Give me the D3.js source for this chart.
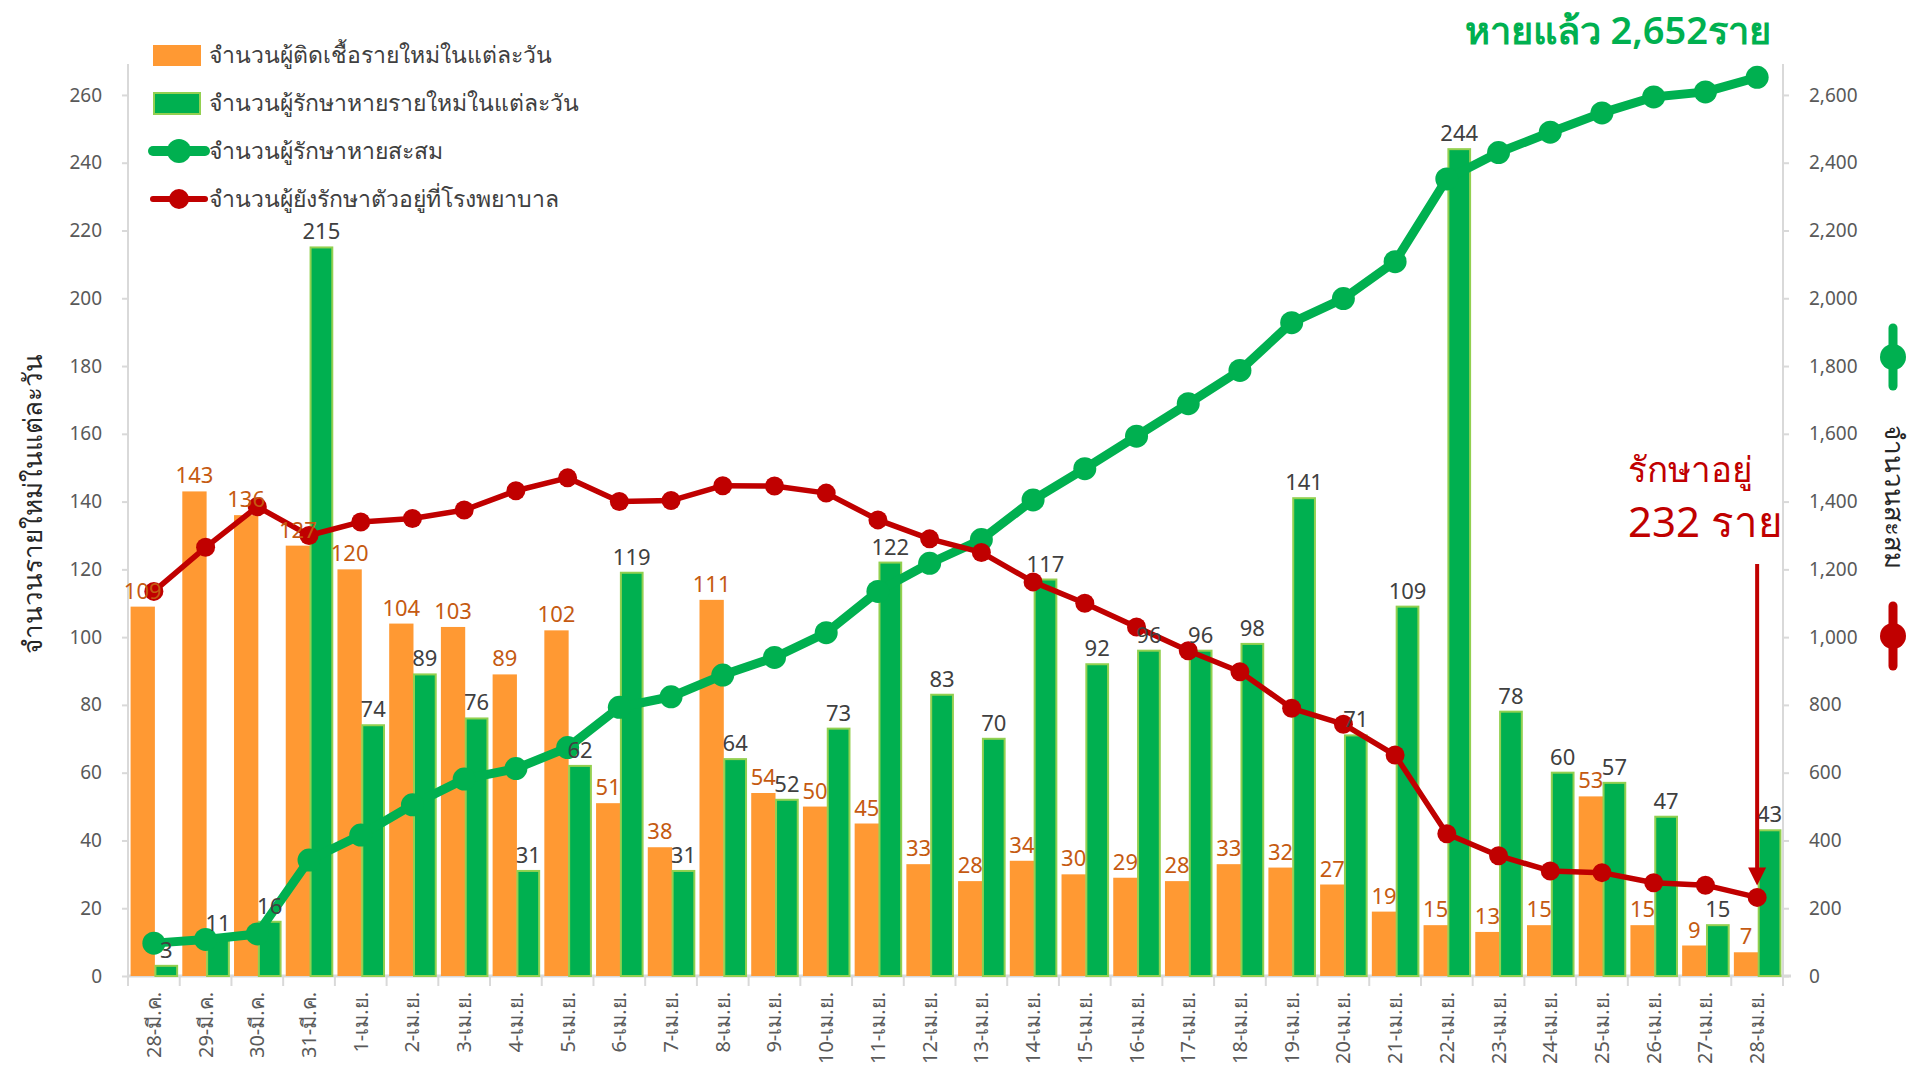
<!DOCTYPE html>
<html>
<head>
<meta charset="utf-8">
<script src="https://cdn.jsdelivr.net/npm/d3@7"></script>
<style>
  body { margin: 0; background: #fff; }
  text { font-family: "Noto Sans", "DejaVu Sans", sans-serif; }
</style>
</head>
<body>
<div id="chart"></div>
<script>
var days = ["28-มี.ค.","29-มี.ค.","30-มี.ค.","31-มี.ค.","1-เม.ย.","2-เม.ย.","3-เม.ย.","4-เม.ย.","5-เม.ย.","6-เม.ย.",
  "7-เม.ย.","8-เม.ย.","9-เม.ย.","10-เม.ย.","11-เม.ย.","12-เม.ย.","13-เม.ย.","14-เม.ย.","15-เม.ย.","16-เม.ย.",
  "17-เม.ย.","18-เม.ย.","19-เม.ย.","20-เม.ย.","21-เม.ย.","22-เม.ย.","23-เม.ย.","24-เม.ย.","25-เม.ย.","26-เม.ย.",
  "27-เม.ย.","28-เม.ย."];
// new infections per day
var newCases = [109,143,136,127,120,104,103,89,102,51,38,111,54,50,45,33,28,34,30,29,28,33,32,27,19,15,13,15,53,15,9,7];
// newly recovered per day
var newRecovered = [3,11,16,215,74,89,76,31,62,119,31,64,52,73,122,83,70,117,92,96,96,98,141,71,109,244,78,60,57,47,15,43];
// cumulative recovered (right axis)
var cumRecovered = [97,108,124,342,416,505,581,612,674,793,824,888,940,1013,1135,1218,1288,1405,1497,1593,
  1689,1787,1928,1999,2108,2352,2430,2490,2547,2594,2609,2652];
// still in hospital (right axis)
var inHospital = [1135,1265,1385,1300,1340,1350,1375,1432,1470,1400,1403,1447,1446,1425,1346,1290,1250,1163,1100,1030,
  960,898,790,743,652,420,355,310,305,275,268,232];
var leftTicks = [0,20,40,60,80,100,120,140,160,180,200,220,240,260];
var rightTicks = [0,200,400,600,800,1000,1200,1400,1600,1800,2000,2200,2400,2600];

var legendNames = ["จำนวนผู้ติดเชื้อรายใหม่ในแต่ละวัน","จำนวนผู้รักษาหายรายใหม่ในแต่ละวัน","จำนวนผู้รักษาหายสะสม","จำนวนผู้ยังรักษาตัวอยู่ที่โรงพยาบาล"];

var orange = "#ff9933", orangeText = "#c55a11", green = "#00b050", greenEdge = "#92d050", red = "#c00000",
    axisCol = "#d9d9d9", tickText = "#595959";

var svgWidth = 1915, svgHeight = 1069;
var plotLeft = 128, plotRight = 1783, plotTop = 78, plotBottom = 976;

var svg = d3.select("#chart").append("svg")
    .attr("width", svgWidth)
    .attr("height", svgHeight);

var x = d3.scaleBand().domain(days).range([plotLeft, plotRight]).padding(0);
var bw = x.bandwidth();
var yL = d3.scaleLinear().domain([0, 265]).range([plotBottom, plotTop]);
var yR = d3.scaleLinear().domain([0, 2650]).range([plotBottom, plotTop]);

// axes
var gl = svg.append("g").attr("transform", "translate(" + plotLeft + ",0)")
    .call(d3.axisLeft(yL).tickValues(leftTicks).tickSize(6).tickPadding(20));
var gr = svg.append("g").attr("transform", "translate(" + plotRight + ",0)")
    .call(d3.axisRight(yR).tickValues(rightTicks).tickSize(6).tickPadding(20).tickFormat(d3.format(",")));
[gl, gr].forEach(function (g) {
  g.select(".domain").attr("stroke", axisCol).attr("stroke-width", 2).attr("d", "M0," + plotBottom + "V" + (plotTop - 14));
  g.selectAll(".tick line").attr("stroke", axisCol).attr("stroke-width", 2);
  g.selectAll(".tick text").attr("fill", tickText).attr("font-size", 19);
});

// x axis
var gx = svg.append("g").attr("transform", "translate(0," + plotBottom + ")");
gx.append("line").attr("x1", plotLeft).attr("x2", plotRight + 8).attr("stroke", axisCol).attr("stroke-width", 3);
gx.selectAll(".xt").data(days.concat(["end"])).enter().append("line")
    .attr("x1", function (d, i) { return plotLeft + i * bw; })
    .attr("x2", function (d, i) { return plotLeft + i * bw; })
    .attr("y1", 0).attr("y2", 10)
    .attr("stroke", axisCol).attr("stroke-width", 2);
gx.selectAll(".xl").data(days).enter().append("text")
    .attr("transform", function (d) { return "translate(" + (x(d) + bw / 2 + 7) + ",16) rotate(-90)"; })
    .attr("text-anchor", "end")
    .attr("font-size", 20)
    .attr("fill", tickText)
    .text(function (d) { return d; });

// bars
svg.append("g").selectAll("rect").data(newCases).enter().append("rect")
    .attr("x", function (d, i) { return x(days[i]) + bw * 0.05; })
    .attr("width", bw * 0.47)
    .attr("y", function (d) { return yL(d); })
    .attr("height", function (d) { return plotBottom - yL(d); })
    .attr("fill", orange);
svg.append("g").selectAll("rect").data(newRecovered).enter().append("rect")
    .attr("x", function (d, i) { return x(days[i]) + bw * 0.53; })
    .attr("width", bw * 0.42)
    .attr("y", function (d) { return yL(d); })
    .attr("height", function (d) { return plotBottom - yL(d); })
    .attr("fill", green)
    .attr("stroke", greenEdge)
    .attr("stroke-width", 2);

// lines
var cx = function (d, i) { return x(days[i]) + bw / 2; };
var rLine = d3.line().x(cx).y(function (d) { return yR(d); });
svg.append("path").datum(cumRecovered).attr("d", rLine)
    .attr("fill", "none").attr("stroke", green).attr("stroke-width", 9).attr("stroke-linejoin", "round");
svg.append("g").selectAll("circle").data(cumRecovered).enter().append("circle")
    .attr("cx", cx).attr("cy", function (d) { return yR(d); }).attr("r", 11.5).attr("fill", green);

svg.append("path").datum(inHospital).attr("d", rLine)
    .attr("fill", "none").attr("stroke", red).attr("stroke-width", 5.5).attr("stroke-linejoin", "round");
svg.append("g").selectAll("circle").data(inHospital).enter().append("circle")
    .attr("cx", cx).attr("cy", function (d) { return yR(d); }).attr("r", 9.5).attr("fill", red);

// data labels
svg.append("g").selectAll("text").data(newCases).enter().append("text")
    .attr("x", function (d, i) { return x(days[i]) + bw * 0.285; })
    .attr("y", function (d) { return yL(d) - 8; })
    .attr("text-anchor", "middle")
    .attr("font-size", 22)
    .attr("fill", orangeText)
    .text(function (d) { return d; });
svg.append("g").selectAll("text").data(newRecovered).enter().append("text")
    .attr("x", function (d, i) { return x(days[i]) + bw * 0.74; })
    .attr("y", function (d) { return yL(d) - 8; })
    .attr("text-anchor", "middle")
    .attr("font-size", 22)
    .attr("fill", "#404040")
    .text(function (d) { return d; });

// left axis title
svg.append("text")
    .attr("transform", "translate(42,504) rotate(-90)")
    .attr("text-anchor", "middle")
    .attr("font-size", 26)
    .attr("font-weight", 500)
    .attr("fill", "#262626")
    .text("จำนวนรายใหม่ในแต่ละวัน");

// right axis title with line markers
var rt = svg.append("g").attr("transform", "translate(1893,0)");
rt.append("line").attr("y1", 328).attr("y2", 386).attr("stroke", green).attr("stroke-width", 9).attr("stroke-linecap", "round");
rt.append("circle").attr("cy", 357).attr("r", 13).attr("fill", green);
rt.append("text")
    .attr("transform", "translate(-8,497) rotate(90)")
    .attr("text-anchor", "middle")
    .attr("font-size", 26)
    .attr("font-weight", 500)
    .attr("fill", "#262626")
    .text("จำนวนสะสม");
rt.append("line").attr("y1", 606).attr("y2", 666).attr("stroke", red).attr("stroke-width", 9).attr("stroke-linecap", "round");
rt.append("circle").attr("cy", 636).attr("r", 13).attr("fill", red);

// legend
var lg = svg.append("g").attr("transform", "translate(153,0)");
legendNames.forEach(function (name, i) {
  var cy = 55 + i * 48;
  if (i === 0) {
    lg.append("rect").attr("x", 0).attr("y", cy - 10).attr("width", 48).attr("height", 21).attr("fill", orange);
  } else if (i === 1) {
    lg.append("rect").attr("x", 1).attr("y", cy - 10).attr("width", 46).attr("height", 21)
      .attr("fill", green).attr("stroke", greenEdge).attr("stroke-width", 2);
  } else {
    var c = i === 2 ? green : red;
    lg.append("line").attr("x1", 0).attr("x2", 52).attr("y1", cy).attr("y2", cy)
      .attr("stroke", c).attr("stroke-width", i === 2 ? 10 : 6).attr("stroke-linecap", "round");
    lg.append("circle").attr("cx", 26).attr("cy", cy).attr("r", i === 2 ? 12 : 10).attr("fill", c);
  }
  lg.append("text").attr("x", 56).attr("y", cy + 8)
    .attr("font-size", 23).attr("fill", "#404040").text(name);
});

// title
svg.append("text")
    .attr("x", 1771).attr("y", 44)
    .attr("text-anchor", "end")
    .attr("font-size", 38)
    .attr("fill", green)
    .attr("font-weight", 600)
    .text("หายแล้ว 2,652ราย");

// annotation + arrow
var last = days.length - 1;
var ax = x(days[last]) + bw / 2;
svg.append("text").attr("x", 1628).attr("y", 482)
    .attr("font-size", 35).attr("fill", red).text("รักษาอยู่");
svg.append("text").attr("x", 1628).attr("y", 537)
    .attr("font-size", 42).attr("fill", red).text("232 ราย");
var tipY = yR(inHospital[last]) - 12;
svg.append("line").attr("x1", ax).attr("x2", ax).attr("y1", 564).attr("y2", tipY - 14)
    .attr("stroke", red).attr("stroke-width", 4);
svg.append("path")
    .attr("d", "M" + (ax - 9) + "," + (tipY - 18) + "L" + (ax + 9) + "," + (tipY - 18) + "L" + ax + "," + tipY + "Z")
    .attr("fill", red);
</script>
</body>
</html>
